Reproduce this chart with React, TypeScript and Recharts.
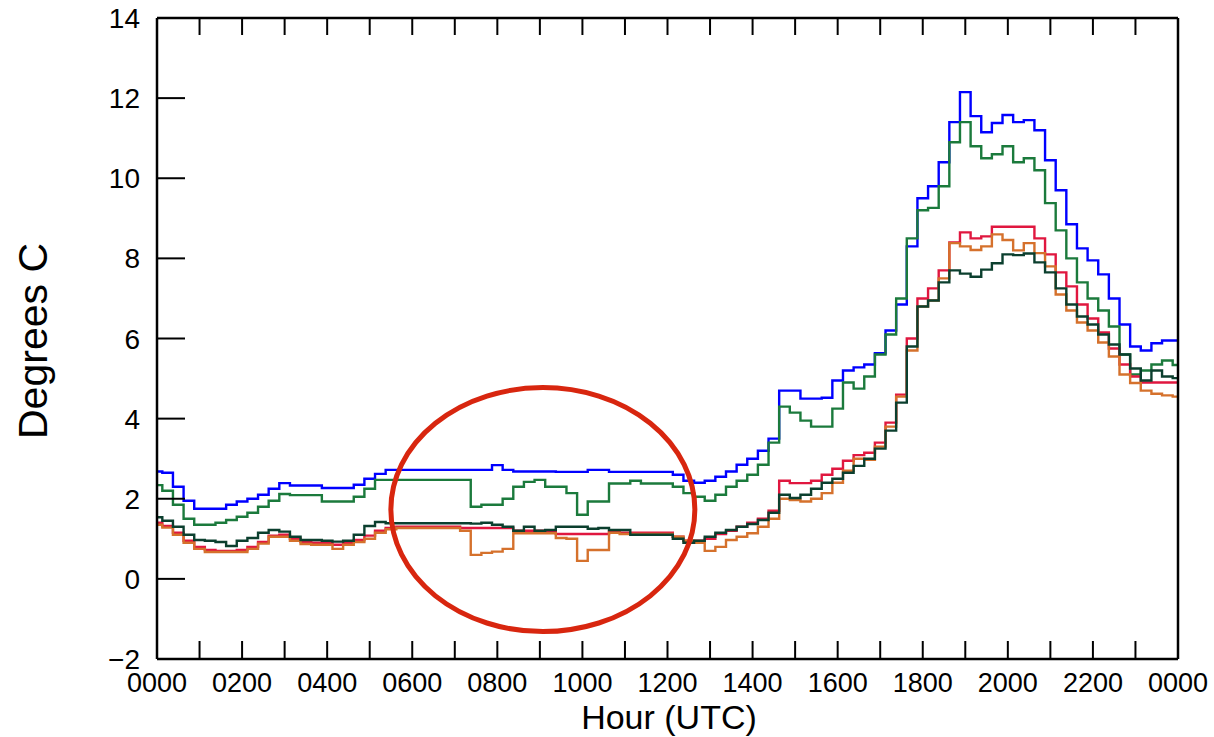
import { LineChart, Line, XAxis, YAxis, ReferenceDot } from "recharts";

// time of day in hours (UTC), one reading per 15 minutes
const hours = [
  0, 0.25, 0.5, 0.75, 1, 1.25, 1.5, 1.75, 2, 2.25, 2.5, 2.75,
  3, 3.25, 3.5, 3.75, 4, 4.25, 4.5, 4.75, 5, 5.25, 5.5, 5.75,
  6, 6.25, 6.5, 6.75, 7, 7.25, 7.5, 7.75, 8, 8.25, 8.5, 8.75,
  9, 9.25, 9.5, 9.75, 10, 10.25, 10.5, 10.75, 11, 11.25, 11.5, 11.75,
  12, 12.25, 12.5, 12.75, 13, 13.25, 13.5, 13.75, 14, 14.25, 14.5, 14.75,
  15, 15.25, 15.5, 15.75, 16, 16.25, 16.5, 16.75, 17, 17.25, 17.5, 17.75,
  18, 18.25, 18.5, 18.75, 19, 19.25, 19.5, 19.75, 20, 20.25, 20.5, 20.75,
  21, 21.25, 21.5, 21.75, 22, 22.25, 22.5, 22.75, 23, 23.25, 23.5, 23.75,
  24,
];

const blue = [
  2.68, 2.65, 2.3, 1.95, 1.75, 1.75, 1.75, 1.85, 1.93, 2.0, 2.1, 2.25,
  2.39, 2.33, 2.33, 2.33, 2.27, 2.27, 2.27, 2.35, 2.5, 2.62, 2.72, 2.72,
  2.72, 2.72, 2.72, 2.72, 2.72, 2.72, 2.72, 2.72, 2.84, 2.72, 2.68, 2.68,
  2.68, 2.68, 2.67, 2.67, 2.67, 2.72, 2.72, 2.67, 2.67, 2.67, 2.67, 2.67,
  2.67, 2.6, 2.45, 2.4, 2.45, 2.55, 2.68, 2.85, 3.0, 3.2, 3.5, 4.7,
  4.7, 4.5, 4.5, 4.52, 4.95, 5.2, 5.28, 5.35, 5.63, 6.2, 6.85, 8.3,
  9.5, 9.8, 10.4, 11.4, 12.15, 11.55, 11.15, 11.38, 11.58, 11.4, 11.45, 11.2,
  10.45, 9.7, 8.85, 8.25, 7.95, 7.6, 7.0, 6.35, 5.8, 5.7, 5.88, 5.95,
  5.95,
];

const green = [
  2.34, 2.2, 1.85, 1.5, 1.35, 1.35, 1.4, 1.47, 1.55, 1.65, 1.8, 1.95,
  2.12, 2.09, 2.09, 2.09, 1.93, 1.93, 1.93, 2.05, 2.25, 2.47, 2.47, 2.47,
  2.47, 2.47, 2.47, 2.47, 2.47, 2.47, 1.8, 1.85, 1.85, 2.0, 2.3, 2.42,
  2.47, 2.3, 2.3, 2.14, 1.6, 1.93, 1.93, 2.38, 2.38, 2.45, 2.38, 2.38,
  2.38, 2.3, 2.14, 2.05, 1.95, 2.1, 2.3, 2.45, 2.6, 2.85, 3.4, 4.3,
  4.15, 3.95, 3.8, 3.8, 4.25, 4.9, 4.75, 5.05, 5.6, 6.1, 7.0, 8.5,
  9.2, 9.26, 9.8, 10.9, 11.4, 10.8, 10.5, 10.6, 10.8, 10.4, 10.5, 10.2,
  9.38, 8.7, 8.0, 7.4, 7.0, 6.7, 6.3, 5.6, 5.1, 5.2, 5.35, 5.45,
  5.34,
];

const red = [
  1.4, 1.32, 1.15, 0.95, 0.8, 0.72, 0.7, 0.7, 0.72, 0.8, 0.92, 1.08,
  1.1, 1.0, 0.92, 0.9, 0.9, 0.85, 0.9, 0.97, 1.08, 1.2, 1.27, 1.3,
  1.3, 1.3, 1.3, 1.3, 1.3, 1.27, 1.27, 1.27, 1.27, 1.27, 1.2, 1.2,
  1.2, 1.2, 1.12, 1.12, 1.12, 1.12, 1.12, 1.18, 1.15, 1.15, 1.15, 1.15,
  1.15, 1.05, 0.95, 0.95, 1.0, 1.12, 1.2, 1.3, 1.4, 1.5, 1.7, 2.45,
  2.39, 2.39, 2.45, 2.6, 2.75, 2.95, 3.09, 3.15, 3.4, 3.9, 4.6, 6.0,
  7.0, 7.25, 7.7, 8.4, 8.65, 8.5, 8.55, 8.79, 8.79, 8.79, 8.79, 8.5,
  8.1, 7.65, 7.3, 6.85, 6.5, 6.15, 5.75, 5.35, 5.05, 4.9, 4.9, 4.9,
  4.9,
];

const orange = [
  1.35, 1.28, 1.1, 0.9, 0.75, 0.67, 0.67, 0.67, 0.67, 0.75, 0.88, 1.05,
  1.05, 0.95, 0.87, 0.85, 0.85, 0.75, 0.85, 0.92, 1.0, 1.15, 1.24, 1.27,
  1.27, 1.27, 1.27, 1.27, 1.27, 1.2, 0.6, 0.65, 0.68, 0.75, 1.14, 1.14,
  1.14, 1.14, 1.02, 1.0, 0.45, 0.72, 0.72, 1.15, 1.12, 1.12, 1.12, 1.12,
  1.12, 1.05, 0.95, 0.9, 0.7, 0.8, 0.97, 1.05, 1.14, 1.3, 1.5, 2.0,
  1.97, 1.93, 2.0, 2.14, 2.4, 2.7, 3.0, 2.97, 3.3, 3.8, 4.55, 5.7,
  6.8, 6.95, 7.5, 8.38, 8.3, 8.21, 8.3, 8.6, 8.46, 8.2, 8.38, 8.13,
  7.8, 7.1, 6.7, 6.4, 6.2, 5.9, 5.55, 5.1, 4.89, 4.7, 4.62, 4.58,
  4.55,
];

const darkGreen = [
  1.54, 1.45, 1.3, 1.1, 0.97, 0.95, 0.92, 0.82, 0.95, 1.02, 1.15, 1.22,
  1.18, 1.05, 0.97, 0.97, 0.95, 0.93, 0.95, 1.1, 1.32, 1.42, 1.39, 1.39,
  1.39, 1.39, 1.39, 1.39, 1.39, 1.39, 1.38, 1.4, 1.35, 1.3, 1.2, 1.3,
  1.2, 1.22, 1.3, 1.3, 1.3, 1.25, 1.27, 1.22, 1.22, 1.1, 1.1, 1.1,
  1.1, 1.0, 0.9, 0.95, 1.05, 1.15, 1.22, 1.3, 1.37, 1.47, 1.65, 2.1,
  2.02, 2.1, 2.25, 2.4, 2.5, 2.65, 2.82, 3.0, 3.25, 3.7, 4.4, 5.8,
  6.8, 6.95, 7.4, 7.7, 7.62, 7.54, 7.72, 7.88, 8.1, 8.08, 8.12, 7.9,
  7.65, 7.25, 6.85, 6.55, 6.35, 6.1, 5.85, 5.6, 5.25, 4.95, 5.2, 5.05,
  5.01,
];

const hourTicks = [
  0, 1, 2, 3, 4, 5, 6, 7, 8, 9, 10, 11, 12,
  13, 14, 15, 16, 17, 18, 19, 20, 21, 22, 23, 24,
];
const degreeTicks = [-2, 0, 2, 4, 6, 8, 10, 12, 14];

// the highlighted stretch of the morning
const circleAt = { hour: 9.07, deg: 1.73 };

const rows = hours.map((h, i) => ({
  h,
  blue: blue[i],
  green: green[i],
  red: red[i],
  orange: orange[i],
  dark: darkGreen[i],
}));

const FONT = "'Liberation Sans', Arial, Helvetica, sans-serif";

const hourLabel = (h: number) => String((h % 24) * 100).padStart(4, "0");

function BottomTick({ x, y, payload }: any) {
  const h = payload.value;
  return (
    <g>
      <line x1={x} x2={x} y1={y} y2={y - 18} stroke="#000" strokeWidth={2} />
      {h % 2 === 0 && (
        <text x={x} y={y + 33} textAnchor="middle" fontSize={27} fontFamily={FONT} fill="#000">
          {hourLabel(h)}
        </text>
      )}
    </g>
  );
}

function TopTick({ x, y }: any) {
  return <line x1={x} x2={x} y1={y} y2={y + 17} stroke="#000" strokeWidth={2} />;
}

function LeftTick({ x, y, payload }: any) {
  return (
    <g>
      <line x1={x} x2={x + 28} y1={y} y2={y} stroke="#000" strokeWidth={2} />
      <text
        x={x - 17}
        y={y}
        dy="0.36em"
        textAnchor="end"
        fontSize={28}
        fontFamily={FONT}
        fill="#000"
      >
        {payload.value < 0 ? "\u22122" : payload.value}
      </text>
    </g>
  );
}

function RightTick({ x, y }: any) {
  return <line x1={x} x2={x - 28} y1={y} y2={y} stroke="#000" strokeWidth={2} />;
}

export default function App() {
  return (
    <div style={{ position: "fixed", left: 0, top: 0, width: 1214, height: 737, background: "#fff" }}>
      <LineChart
        width={1214}
        height={737}
        data={rows}
        margin={{ top: 8, right: 26, bottom: 38, left: 97 }}
      >
        <XAxis
          xAxisId="b"
          dataKey="h"
          type="number"
          domain={[0, 24]}
          ticks={hourTicks}
          height={40}
          tickSize={0}
          tickMargin={0}
          tickLine={false}
          axisLine={{ stroke: "#000", strokeWidth: 2.5 }}
          tick={<BottomTick />}
          interval={0}
        />
        <XAxis
          xAxisId="t"
          orientation="top"
          dataKey="h"
          type="number"
          domain={[0, 24]}
          ticks={hourTicks}
          height={10}
          tickSize={0}
          tickMargin={0}
          tickLine={false}
          axisLine={{ stroke: "#000", strokeWidth: 2.5 }}
          tick={<TopTick />}
          interval={0}
        />
        <YAxis
          yAxisId="l"
          type="number"
          domain={[-2, 14]}
          ticks={degreeTicks}
          width={60}
          tickSize={0}
          tickMargin={0}
          tickLine={false}
          axisLine={{ stroke: "#000", strokeWidth: 2.5 }}
          tick={<LeftTick />}
          interval={0}
        />
        <YAxis
          yAxisId="r"
          orientation="right"
          type="number"
          domain={[-2, 14]}
          ticks={degreeTicks}
          width={10}
          tickSize={0}
          tickMargin={0}
          tickLine={false}
          axisLine={{ stroke: "#000", strokeWidth: 2.5 }}
          tick={<RightTick />}
          interval={0}
        />
        <Line xAxisId="b" yAxisId="l" type="step" dataKey="blue" stroke="#0000ff" strokeWidth={2.4} dot={false} isAnimationActive={false} />
        <Line xAxisId="b" yAxisId="l" type="step" dataKey="green" stroke="#1b7a3c" strokeWidth={2.4} dot={false} isAnimationActive={false} />
        <Line xAxisId="b" yAxisId="l" type="step" dataKey="red" stroke="#e0173f" strokeWidth={2.4} dot={false} isAnimationActive={false} />
        <Line xAxisId="b" yAxisId="l" type="step" dataKey="orange" stroke="#d5712c" strokeWidth={2.4} dot={false} isAnimationActive={false} />
        <Line xAxisId="b" yAxisId="l" type="step" dataKey="dark" stroke="#0b3f2e" strokeWidth={2.4} dot={false} isAnimationActive={false} />
        <ReferenceDot
          xAxisId="b"
          yAxisId="l"
          x={circleAt.hour}
          y={circleAt.deg}
          r={0}
          shape={(p: any) => (
            <ellipse cx={p.cx} cy={p.cy} rx={152} ry={122} fill="none" stroke="#d8260f" strokeWidth={5} />
          )}
        />
        <text x={669} y={729} textAnchor="middle" fontSize={34} fontFamily={FONT} fill="#000">
          Hour (UTC)
        </text>
        <text
          x={47}
          y={341}
          textAnchor="middle"
          fontSize={41}
          fontFamily={FONT}
          fill="#000"
          transform="rotate(-90, 47, 341)"
        >
          Degrees C
        </text>
      </LineChart>
    </div>
  );
}
